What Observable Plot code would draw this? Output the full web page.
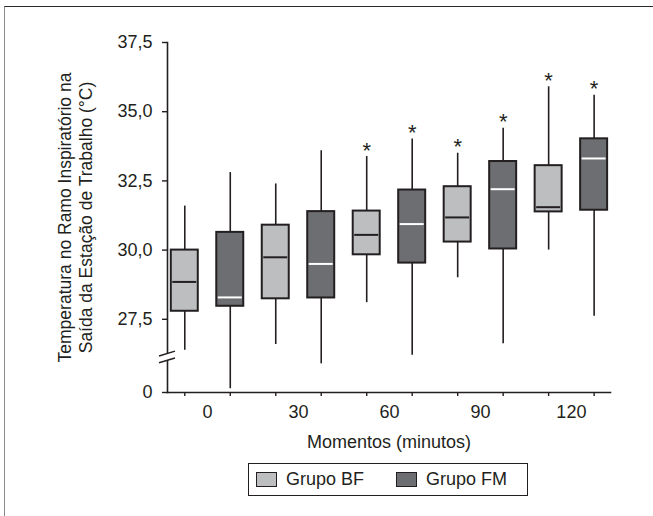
<!DOCTYPE html>
<html>
<head>
<meta charset="utf-8">
<script src="https://cdn.jsdelivr.net/npm/d3@7"></script>
<script src="https://cdn.jsdelivr.net/npm/@observablehq/plot@0.6"></script>
<style>
  body { margin: 0; background: #fff; font-family: "Liberation Sans", Arial, sans-serif; color: #231f20; }
  #wrap { position: relative; width: 653px; height: 516px; overflow: hidden; }
  #frame { position: absolute; left: 4px; top: 6px; width: 660px; height: 530px; border-top: 1.5px solid #2a2a2a; border-left: 1.5px solid #8a8a8a; box-sizing: border-box; }
  #chart { position: absolute; left: 0; top: 0; }
  #legend { position: absolute; left: 248px; top: 463px; width: 280px; height: 33px; border: 1.5px solid #231f20; box-sizing: border-box; font-size: 18px; }
  .item { position: absolute; top: 0; height: 30px; display: flex; align-items: center; }
  .sw { width: 21px; height: 15px; border: 1.5px solid #231f20; box-sizing: border-box; margin-right: 9px; }
</style>
</head>
<body>
<div id="wrap">
  <div id="frame"></div>
  <div id="chart"></div>
  <div id="legend"></div>
</div>
<script>
// Moments of measurement (minutes)
const moments = [0, 30, 60, 90, 120];
const groups = ["Grupo BF", "Grupo FM"];
const groupFill = ["#bcbec0", "#6d6e71"];
const medianStroke = ["#231f20", "#ffffff"];

// Box-plot summaries per moment (°C)
const bfMin = [26.38, 26.59, 28.10, 29.00, 30.00];
const bfQ1  = [27.79, 28.24, 29.83, 30.29, 31.38];
const bfMed = [28.85, 29.74, 30.55, 31.18, 31.55];
const bfQ3  = [30.00, 30.90, 31.41, 32.29, 33.05];
const bfMax = [31.59, 32.39, 33.38, 33.50, 35.90];
const bfSig = [false, false, true, true, true];

const fmMin = [24.99, 25.89, 26.20, 26.62, 27.61];
const fmQ1  = [27.97, 28.27, 29.53, 30.04, 31.44];
const fmMed = [28.29, 29.50, 30.94, 32.20, 33.31];
const fmQ3  = [30.64, 31.39, 32.17, 33.20, 34.02];
const fmMax = [32.80, 33.59, 34.01, 34.40, 35.59];
const fmSig = [false, false, true, true, true];

// Y axis: the lowest tick stands for 0 below an axis break
const yTicks = [24.855, 27.5, 30, 32.5, 35, 37.5];
const yTickLabels = ["0", "27,5", "30,0", "32,5", "35,0", "37,5"];
const breakAt = 26.12;

// Layout constants (minutes on the x axis)
const DODGE = 7.5;      // offset of each group from its moment
const HALF = 4.45;      // half box width
const ink = "#231f20";

const series = [
  {min: bfMin, q1: bfQ1, med: bfMed, q3: bfQ3, max: bfMax, sig: bfSig},
  {min: fmMin, q1: fmQ1, med: fmMed, q3: fmQ3, max: fmMax, sig: fmSig}
];
const rows = [];
moments.forEach((m, i) => {
  series.forEach((s, g) => {
    rows.push({
      moment: m, group: g, pos: m + (g === 0 ? -DODGE : DODGE),
      min: s.min[i], q1: s.q1[i], med: s.med[i], q3: s.q3[i], max: s.max[i], sig: s.sig[i]
    });
  });
});
const labelOf = new Map(yTicks.map((t, i) => [t, yTickLabels[i]]));

// Slanted double stroke marking the y axis break
function axisBreak(index, scales, values, dims) {
  const g = d3.create("svg:g");
  const ax = dims.marginLeft;
  const yb = scales.y(breakAt);
  const half = 8, gap = 3.4, tilt = 2.4;
  g.append("path")
    .attr("d", `M${ax - half},${yb - gap + tilt}L${ax + half},${yb - gap - tilt}L${ax + half},${yb + gap - tilt}L${ax - half},${yb + gap + tilt}Z`)
    .attr("fill", "#fff");
  for (const s of [-1, 1]) {
    g.append("line")
      .attr("x1", ax - half).attr("y1", yb + s * gap + tilt)
      .attr("x2", ax + half).attr("y2", yb + s * gap - tilt)
      .attr("stroke", ink).attr("stroke-width", 1.4);
  }
  return g.node();
}

const chart = Plot.plot({
  width: 653,
  height: 460,
  marginLeft: 167,
  marginRight: 43,
  marginTop: 42,
  marginBottom: 68,
  style: {fontFamily: "Liberation Sans, Arial, sans-serif", color: ink, background: "transparent"},
  x: {type: "linear", domain: [-13.2, 132.9]},
  y: {type: "linear", domain: [yTicks[0], 37.5]},
  marks: [
    Plot.frame({anchor: "left", stroke: ink, strokeWidth: 1.6}),
    Plot.frame({anchor: "bottom", stroke: ink, strokeWidth: 1.6}),
    Plot.axisY({ticks: yTicks, tickFormat: d => labelOf.get(d), tickSize: 5, tickPadding: 10, fontSize: 18, label: null, stroke: ink, strokeWidth: 1.4}),
    Plot.axisX({ticks: rows.map(d => d.pos), tickFormat: () => "", tickSize: 4, label: null, stroke: ink, strokeWidth: 1.4}),
    Plot.axisX({ticks: moments, tickFormat: d => String(d), tickSize: 0, tickPadding: 13, fontSize: 18, label: null}),
    // whiskers
    Plot.ruleX(rows, {x: "pos", y1: "q3", y2: "max", stroke: ink, strokeWidth: 1.6}),
    Plot.ruleX(rows, {x: "pos", y1: "min", y2: "q1", stroke: ink, strokeWidth: 1.6}),
    // boxes
    Plot.rect(rows, {x1: d => d.pos - HALF, x2: d => d.pos + HALF, y1: "q1", y2: "q3",
      fill: d => groupFill[d.group], stroke: ink, strokeWidth: 2}),
    // medians
    Plot.ruleY(rows, {x1: d => d.pos - HALF, x2: d => d.pos + HALF, y: "med",
      stroke: d => medianStroke[d.group], strokeWidth: 2, insetLeft: 1.5, insetRight: 1.5}),
    // significance markers
    Plot.text(rows.filter(d => d.sig), {x: "pos", y: "max", text: () => "*", fontSize: 22, dy: -6, fill: ink}),
    axisBreak,
    // axis titles
    Plot.text(["Temperatura no Ramo Inspiratório na\nSaída da Estação de Trabalho (°C)"],
      {frameAnchor: "left", textAnchor: "middle", rotate: -90, dx: -93, fontSize: 17.5, lineHeight: 1.25, fill: ink}),
    Plot.text(["Momentos (minutos)"], {frameAnchor: "bottom", dy: 55, fontSize: 18, fill: ink})
  ]
});
document.getElementById("chart").appendChild(chart);

// Legend below the plot
const legend = document.getElementById("legend");
const legendX = [7, 147];
groups.forEach((name, g) => {
  const item = document.createElement("div");
  item.className = "item";
  item.style.left = legendX[g] + "px";
  const sw = document.createElement("span");
  sw.className = "sw";
  sw.style.background = groupFill[g];
  item.appendChild(sw);
  item.appendChild(document.createTextNode(name));
  legend.appendChild(item);
});
</script>
</body>
</html>
